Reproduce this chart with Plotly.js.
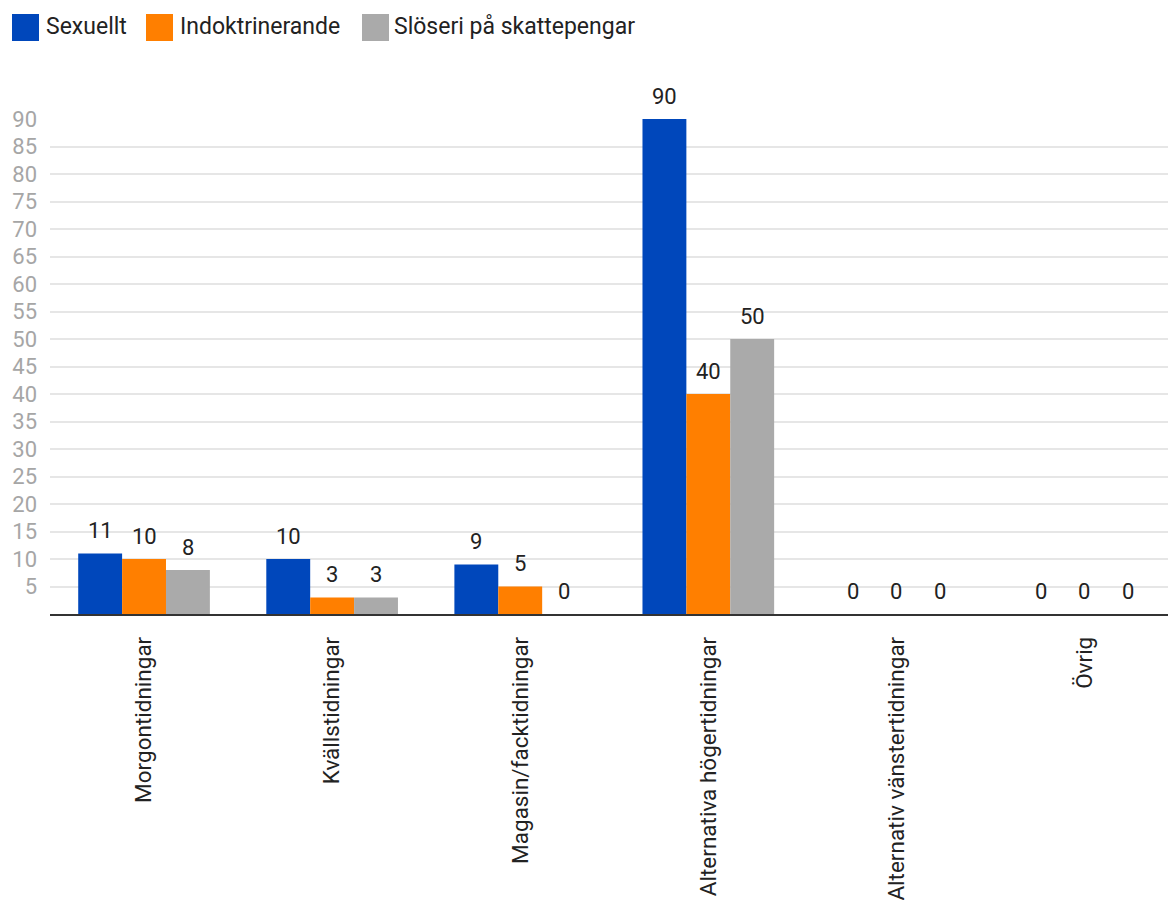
<!DOCTYPE html>
<html><head><meta charset="utf-8">
<script src="https://cdn.plot.ly/plotly-3.0.1.min.js"></script>
<style>html,body{margin:0;padding:0;background:#fff}#chart{width:1168px;height:900px}</style>
</head><body><div id="chart"></div>
<script>
const categories = ["Morgontidningar","Kvällstidningar","Magasin/facktidningar","Alternativa högertidningar","Alternativ vänstertidningar","Övrig"];
const seriesNames = ["Sexuellt","Indoktrinerande","Slöseri på skattepengar"];
const sexuellt = [11,10,9,90,0,0];
const indoktrinerande = [10,3,5,40,0,0];
const sloseri = [8,3,0,50,0,0];
const colors = ["#0047BB","#FF7F00","#AAAAAA"];
const yTickVals = [5,10,15,20,25,30,35,40,45,50,55,60,65,70,75,80,85,90];

const series = [sexuellt, indoktrinerande, sloseri];
const W = 1168, H = 900;
const M = {l:50, r:0, t:119, b:286};
const plotW = W - M.l - M.r, plotH = H - M.t - M.b;
const px2x = p => (p - M.l) / plotW;
const px2y = p => (H - M.b - p) / plotH;
const bargap = 0.3;
const barW = (1 - bargap) / series.length;

const traces = series.map((vals, s) => ({
  type: 'bar', name: seriesNames[s], x: categories, y: vals,
  marker: {color: colors[s]}, hoverinfo: 'x+y+name'
}));

const annotations = [];
series.forEach((vals, s) => {
  vals.forEach((v, i) => {
    annotations.push({
      x: i + (s - 1) * barW, y: v, xref: 'x', yref: 'y',
      text: String(v), showarrow: false, yanchor: 'middle', yshift: 23,
      font: {family: 'Roboto', size: 22, color: '#222'}
    });
  });
});

// custom legend
const legendSq = [[12,39],[146,173],[362,389]];
const legendTx = [44,178,392];
const shapes = [];
seriesNames.forEach((n, s) => {
  shapes.push({type:'rect', xref:'paper', yref:'paper',
    x0: px2x(legendSq[s][0]), x1: px2x(legendSq[s][1]), y0: px2y(41), y1: px2y(14),
    fillcolor: colors[s], line: {width: 0}});
  annotations.push({xref:'paper', yref:'paper', x: px2x(legendTx[s]), y: px2y(27),
    xanchor:'left', yanchor:'middle', text: n, showarrow:false,
    font:{family:'Roboto', size:23, color:'#222'}});
});

const layout = {
  width: W, height: H, autosize: false, margin: M,
  paper_bgcolor: '#fff', plot_bgcolor: '#fff',
  font: {family: 'Roboto', size: 22, color: '#222'},
  showlegend: false, barmode: 'group', bargap: bargap, bargroupgap: 0,
  xaxis: {type:'category', range: [-0.5, 5.444], tickangle: -90, ticks: '',
    showline: true, linecolor: '#333', linewidth: 1.5, showgrid: false, zeroline: false,
    ticklabelstandoff: 12, tickfont: {family:'Roboto', size: 22.5, color:'#222'}},
  yaxis: {range: [0, 90], tickmode: 'array', tickvals: yTickVals, ticktext: yTickVals.map(String),
    showgrid: true, gridcolor: '#e6e6e6', gridwidth: 1.5, zeroline: false, showline: false,
    ticks: '', ticklabelstandoff: 12, tickfont: {family:'Roboto', size: 22, color:'#a6a6a6'}},
  annotations: annotations, shapes: shapes
};
Plotly.newPlot('chart', traces, layout, {displayModeBar: false, staticPlot: false});
</script></body></html>
